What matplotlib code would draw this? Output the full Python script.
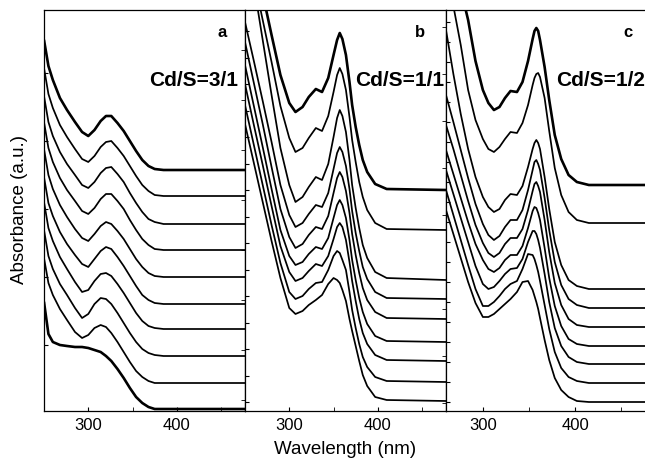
import numpy as np
import matplotlib
matplotlib.use("Agg")
import matplotlib.pyplot as plt
from matplotlib.ticker import FixedLocator

plt.rcParams['font.family'] = ['Liberation Sans', 'DejaVu Sans']

# ---- panel a : Cd/S = 3/1 (heights above each curve's own baseline, a.u. x100)
wl_a = [250, 255, 260, 268, 276, 285, 293, 300, 307, 314, 320, 326, 333, 340,
        347, 354, 361, 368, 375, 385, 477]
abs_a = [
    [130, 104, 90, 72, 60, 48, 38, 34, 40, 49, 54, 54, 47, 39, 29, 19, 10, 4, 1, 0, 0],
    [128, 102, 88, 71, 59, 47, 37, 34, 40, 49, 54, 55, 48, 40, 30, 20, 11, 5, 1, 0, 0],
    [128, 102, 88, 72, 60, 49, 39, 36, 42, 51, 56, 57, 50, 42, 31, 21, 12, 5, 2, 0, 0],
    [128, 102, 88, 72, 60, 49, 39, 36, 42, 51, 56, 56, 49, 41, 30, 20, 11, 5, 1, 0, 0],
    [128, 102, 88, 72, 60, 48, 39, 36, 43, 51, 55, 53, 46, 38, 28, 18, 10, 4, 1, 0, 0],
    [127, 101, 88, 72, 60, 49, 40, 37, 45, 53, 57, 55, 47, 38, 28, 18, 9, 4, 1, 0, 0],
    [127, 101, 88, 72, 60, 47, 37, 39, 48, 55, 56, 53, 45, 36, 26, 16, 8, 3, 1, 0, 0],
    [126, 100, 87, 72, 61, 48, 38, 42, 52, 58, 57, 52, 43, 33, 23, 14, 7, 3, 1, 0, 0],
    [125, 100, 88, 74, 63, 51, 45, 48, 55, 58, 56, 50, 41, 31, 21, 12, 6, 2, 0, 0, 0],
    [107, 75, 67, 64, 63, 62, 62, 61, 59, 57, 53, 48, 40, 31, 21, 12, 6, 2, 0, 0, 0],
]
offset_a = [241, 215, 187, 161, 134, 107, 82, 55, 28, 2]

# ---- panel b : Cd/S = 1/1
wl_b = [250, 260, 270, 280, 290, 300, 307, 315, 322, 330, 337, 344, 350, 354,
        357, 360, 364, 368, 371, 375, 379, 383, 388, 397, 410, 477]
abs_b = [
    [280, 238, 196, 155, 115, 87, 78, 83, 93, 101, 98, 112, 135, 150, 157, 151, 135, 108, 85, 63, 45, 30, 18, 6, 1, 0],
    [295, 252, 210, 168, 124, 92, 78, 82, 92, 102, 99, 114, 138, 155, 162, 156, 140, 113, 90, 68, 48, 33, 20, 7, 1, 0],
    [345, 295, 240, 185, 132, 95, 78, 83, 93, 103, 100, 116, 143, 162, 170, 164, 148, 120, 95, 72, 52, 35, 22, 8, 2, 0],
    [277, 238, 198, 157, 114, 84, 72, 76, 85, 94, 92, 106, 130, 146, 152, 147, 133, 110, 88, 66, 48, 32, 20, 7, 1, 0],
    [277, 236, 195, 152, 110, 82, 71, 75, 84, 92, 90, 103, 126, 141, 147, 142, 128, 106, 85, 64, 46, 31, 19, 7, 1, 0],
    [277, 236, 195, 153, 112, 86, 77, 80, 88, 95, 93, 104, 124, 137, 142, 137, 124, 102, 82, 62, 44, 30, 18, 6, 1, 0],
    [277, 236, 196, 155, 115, 89, 80, 83, 90, 97, 95, 105, 122, 134, 138, 134, 121, 99, 80, 60, 42, 28, 17, 6, 1, 0],
    [277, 237, 197, 157, 119, 90, 83, 86, 93, 99, 100, 112, 126, 131, 129, 122, 112, 90, 72, 54, 38, 25, 15, 5, 1, 0],
    [277, 238, 199, 160, 123, 93, 87, 90, 96, 101, 106, 117, 123, 121, 118, 111, 100, 82, 70, 55, 40, 26, 15, 4, 1, 0],
]
offset_b = [221, 181, 131, 112, 92, 69, 50, 29, 10]

# ---- panel c : Cd/S = 1/2
wl_c = [260, 268, 276, 284, 292, 300, 306, 312, 318, 324, 330, 337, 343, 349,
        354, 356, 358, 360, 362, 367, 372, 378, 385, 393, 402, 415, 477]
abs_c = [
    [262, 228, 196, 165, 124, 95, 82, 75, 78, 87, 94, 93, 103, 124, 146, 154, 157, 154, 145, 118, 85, 50, 26, 10, 3, 0, 0],
    [250, 217, 178, 133, 103, 84, 74, 71, 76, 84, 91, 90, 100, 118, 138, 145, 149, 150, 146, 125, 92, 55, 28, 11, 3, 0, 0],
    [259, 215, 175, 140, 112, 92, 82, 77, 80, 89, 95, 94, 103, 122, 140, 146, 149, 146, 140, 112, 80, 47, 24, 9, 3, 0, 0],
    [213, 186, 158, 130, 104, 84, 73, 68, 72, 81, 88, 88, 98, 118, 138, 146, 148, 144, 138, 110, 78, 46, 23, 9, 3, 0, 0],
    [202, 178, 152, 126, 102, 84, 74, 70, 74, 83, 89, 89, 98, 117, 136, 143, 145, 141, 135, 107, 75, 44, 22, 8, 2, 0, 0],
    [196, 172, 148, 124, 102, 86, 77, 74, 78, 86, 91, 91, 100, 118, 135, 139, 138, 133, 126, 98, 68, 40, 20, 7, 2, 0, 0],
    [194, 170, 146, 122, 98, 80, 75, 77, 83, 90, 95, 96, 105, 122, 133, 133, 130, 124, 116, 90, 62, 36, 18, 7, 2, 0, 0],
    [193, 168, 143, 118, 94, 77, 77, 81, 87, 94, 99, 102, 114, 129, 128, 124, 118, 111, 102, 78, 54, 31, 15, 6, 2, 0, 0],
    [192, 168, 144, 120, 99, 85, 85, 88, 93, 98, 103, 110, 120, 121, 112, 106, 100, 93, 84, 62, 42, 24, 12, 5, 1, 0, 0],
]
offset_c = [226, 188, 122, 103, 84, 65, 47, 28, 9]

panels = [
    ("a", "Cd/S=3/1", wl_a, abs_a, offset_a, (250, 477), [0, 9]),
    ("b", "Cd/S=1/1", wl_b, abs_b, offset_b, (250, 477), [0]),
    ("c", "Cd/S=1/2", wl_c, abs_c, offset_c, (260, 477), [0]),
]


def drawPanel(ax, wl, spectra, offsets, xlim, thick):
    for i, (spec, off) in enumerate(zip(spectra, offsets)):
        lw = 1.9 if i in thick else 1.25
        ax.plot(wl, np.array(spec) + off, color="black", lw=lw,
                solid_joinstyle="round", solid_capstyle="round")
    ax.set_xlim(*xlim)
    ax.set_ylim(0, 401)
    ax.set_xticks([300, 400])
    ax.xaxis.set_minor_locator(FixedLocator([250, 350, 450]))
    ax.tick_params(axis="x", which="both", direction="in", length=3,
                   labelsize=12, pad=5, top=False)
    ax.tick_params(axis="y", which="both", labelleft=False, right=False)
    for sp in ax.spines.values():
        sp.set_linewidth(0.9)


def main():
    fig = plt.figure(figsize=(6.45, 4.62), dpi=100, facecolor="white")
    W, H = 645.0, 462.0
    boxes = [(44, 201), (245, 201), (446, 200)]
    axes = []
    for (x0, w) in boxes:
        ax = fig.add_axes([x0 / W, (H - 411) / H, w / W, 401 / H])
        axes.append(ax)

    for ax, (letter, label, wl, spectra, offsets, xlim, thick) in zip(axes, panels):
        drawPanel(ax, wl, spectra, offsets, xlim, thick)

    # panel letters and ratio labels
    letter_x = [0.886, 0.87, 0.91]
    label_x = [0.968, 0.99, 0.995]
    for ax, p, lx, tx in zip(axes, panels, letter_x, label_x):
        ax.text(lx, 0.945, p[0], transform=ax.transAxes, fontsize=12,
                weight="bold", ha="center", va="center")
        ax.text(tx, 0.825, p[1], transform=ax.transAxes, fontsize=15,
                weight="bold", ha="right", va="center")

    # y ticks (no labels), inward; minor 'out' ones belong to the neighbour's right spine
    axes[0].yaxis.set_major_locator(FixedLocator([66, 134, 202, 270, 338]))
    axes[1].yaxis.set_major_locator(FixedLocator(np.arange(9, 400, 26.5)))
    axes[1].yaxis.set_minor_locator(FixedLocator(np.arange(11, 400, 50)))
    axes[2].yaxis.set_major_locator(FixedLocator(np.arange(9, 400, 20)))
    axes[2].yaxis.set_minor_locator(FixedLocator(np.arange(8, 400, 47)))
    for ax in axes:
        ax.tick_params(axis="y", which="major", direction="in", length=3)
        ax.tick_params(axis="y", which="minor", direction="out", length=3)
    axes[0].tick_params(axis="y", which="minor", left=False)
    axes[2].spines["right"].set_visible(False)

    fig.text(20 / W, 1 - 210 / H, "Absorbance (a.u.)", rotation=90,
             fontsize=13.5, ha="center", va="center")
    fig.text(345 / W, 1 - 450 / H, "Wavelength (nm)", fontsize=13.5,
             ha="center", va="center")

    fig.savefig("out.png", dpi=100, facecolor="white")


if __name__ == "__main__":
    main()
